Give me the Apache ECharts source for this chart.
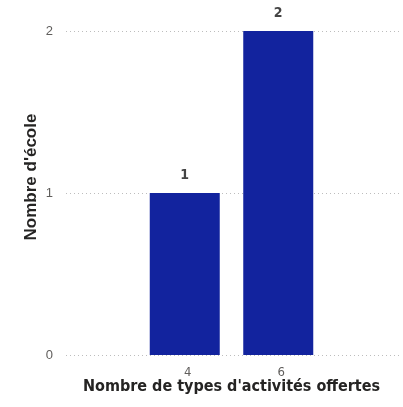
<!DOCTYPE html>
<html>
<head>
<meta charset="utf-8">
<script src="https://cdn.jsdelivr.net/npm/echarts@6/dist/echarts.min.js"></script>
<style>
  html, body { margin: 0; padding: 0; background: #fff; }
  #chart { width: 403px; height: 407px; }
</style>
</head>
<body>
<div id="chart"></div>
<script>
// données
const categories = ['4', '6']
const ecoles = [1, 2]
const yTicks = [0, 1, 2]

const din = 'DejaVu Sans Condensed'
const sans = 'Liberation Sans'
const chart = echarts.init(document.getElementById('chart'))

const option = {
  animation: false,
  grid: [
    // grille large : lignes de repère et axe Y
    { left: 66, right: 3, top: 31, bottom: 52 },
    // grille étroite : les barres
    { left: 138, width: 187, top: 31, bottom: 52 }
  ],
  xAxis: [
    { gridIndex: 0, type: 'value', show: false, min: 0, max: 1 },
    {
      gridIndex: 1,
      type: 'category',
      data: categories,
      axisLine: { show: false },
      axisTick: { show: false },
      axisLabel: {
        color: '#605e5c', fontFamily: din, fontSize: 13, margin: 11,
        padding: [0, 0, 0, 6]
      },
      name: "Nombre de types d'activités offertes",
      nameLocation: 'middle',
      nameGap: 24,
      nameMoveOverlap: false,
      nameTextStyle: { color: '#252423', fontFamily: din, fontSize: 16, fontWeight: 'bold' }
    }
  ],
  yAxis: [
    {
      gridIndex: 0,
      type: 'value',
      min: yTicks[0],
      max: yTicks[yTicks.length - 1],
      interval: 1,
      axisLine: { show: false },
      axisTick: { show: false },
      axisLabel: { color: '#605e5c', fontFamily: sans, fontSize: 13, margin: 13 },
      splitLine: { lineStyle: { color: '#bdbdbd', type: [1, 3], width: 1 } },
      name: "Nombre d'école",
      nameLocation: 'middle',
      nameGap: 26,
      nameMoveOverlap: false,
      nameTextStyle: {
        color: '#252423', fontFamily: sans, fontSize: 17, fontWeight: 'bold',
        padding: [0, 0, 0, 32]
      }
    },
    {
      gridIndex: 1,
      type: 'value',
      show: false,
      min: yTicks[0],
      max: yTicks[yTicks.length - 1]
    }
  ],
  series: [{
    type: 'bar',
    xAxisIndex: 1,
    yAxisIndex: 1,
    data: ecoles,
    barWidth: 70,
    itemStyle: { color: '#12239e' },
    label: {
      show: true,
      position: 'top',
      distance: 11,
      color: '#444',
      fontFamily: din,
      fontSize: 14,
      fontWeight: 'bold'
    }
  }]
}

chart.setOption(option)
</script>
</body>
</html>
